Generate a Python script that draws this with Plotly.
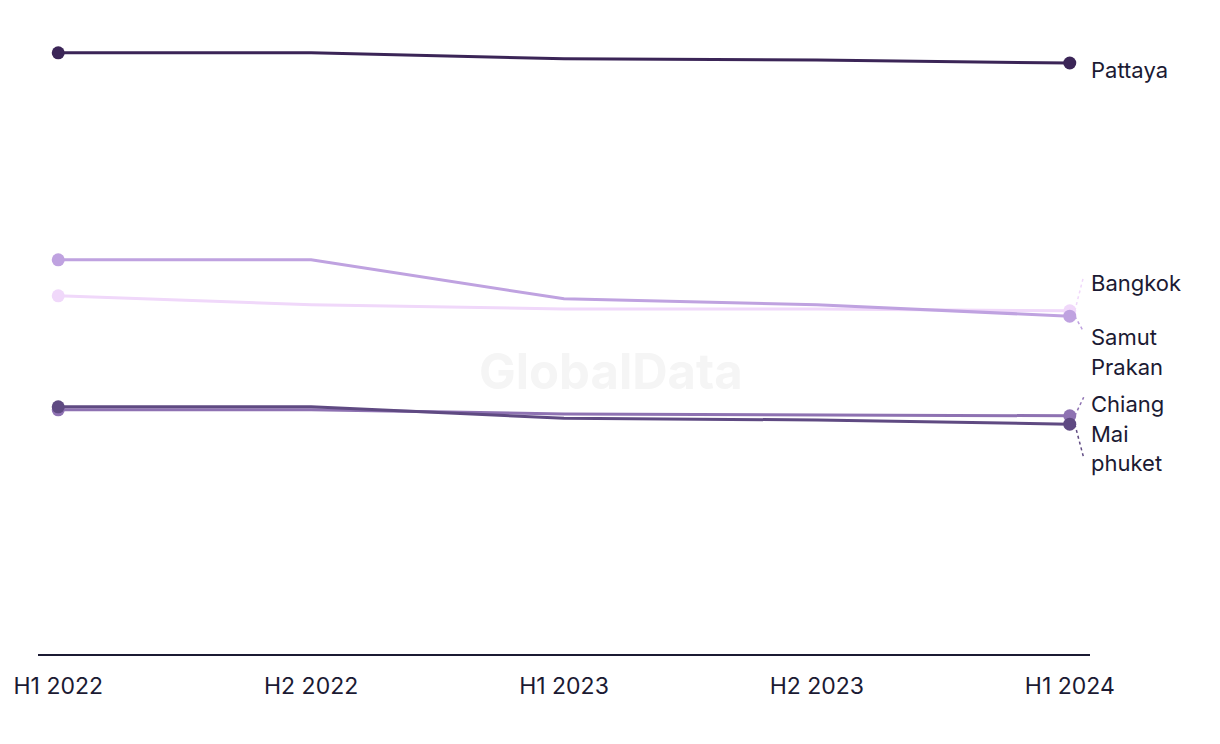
import plotly.graph_objects as go

periods = ["H1 2022", "H2 2022", "H1 2023", "H2 2023", "H1 2024"]

pattaya = [100.2, 100.2, 99.2, 99.0, 98.5]
samut_prakan = [65.7, 65.7, 59.2, 58.2, 56.3]
bangkok = [59.7, 58.2, 57.5, 57.5, 57.2]
chiang_mai = [40.7, 40.7, 40.0, 39.8, 39.7]
phuket = [41.2, 41.2, 39.3, 39.0, 38.3]

series = [
    ("Bangkok", bangkok, "#f0d8fa"),
    ("Samut Prakan", samut_prakan, "#bfa2e0"),
    ("Chiang Mai", chiang_mai, "#8e72b2"),
    ("phuket", phuket, "#5f4a82"),
    ("Pattaya", pattaya, "#3b2557"),
]

# label lines and their vertical placement (data units)
label_lines = {
    "Bangkok": [("Bangkok", 61.8)],
    "Samut Prakan": [("Samut", 52.8), ("Prakan", 47.8)],
    "Chiang Mai": [("Chiang", 41.6), ("Mai", 36.7)],
    "phuket": [("phuket", 31.8)],
    "Pattaya": [("Pattaya", 97.3)],
}
conn_end = {"Bangkok": 63.0, "Samut Prakan": 53.7, "Chiang Mai": 42.8, "phuket": 32.7}

text_color = "#1b1a33"
FONT = "Inter"

fig = go.Figure()
for name, vals, col in series:
    fig.add_trace(go.Scatter(
        x=list(range(len(periods))), y=vals, mode="lines",
        line=dict(color=col, width=3), showlegend=False, hoverinfo="skip"))
    fig.add_trace(go.Scatter(
        x=[0, len(periods) - 1], y=[vals[0], vals[-1]], mode="markers",
        marker=dict(color=col, size=13), showlegend=False, hoverinfo="skip"))
    if name in conn_end:
        fig.add_shape(type="line", x0=4.02, y0=vals[-1], x1=4.055, y1=conn_end[name],
                      xref="x", yref="y", line=dict(color=col, width=1.5, dash="dot"))
    for txt, ly in label_lines[name]:
        fig.add_annotation(x=1, xref="paper", y=ly, yref="y", text=txt,
                           showarrow=False, xanchor="left", yanchor="middle", align="left",
                           xshift=-1, font=dict(size=22, color=text_color, family=FONT))

fig.add_annotation(x=0.545, y=0.445, xref="paper", yref="paper", text="<b>GlobalData</b>",
                   showarrow=False, font=dict(size=49, color="#f5f5f5", family=FONT))

fig.update_layout(
    width=1220, height=744,
    margin=dict(l=30, r=138, t=12, b=98, autoexpand=False),
    plot_bgcolor="white", paper_bgcolor="white",
    font=dict(family=FONT, color=text_color),
    xaxis=dict(tickmode="array", tickvals=list(range(len(periods))), ticktext=periods,
               range=[-0.08, 4.08], showgrid=False, zeroline=False, automargin=False,
               showline=True, linecolor=text_color, linewidth=2,
               ticks="outside", ticklen=10, tickcolor="rgba(0,0,0,0)",
               tickfont=dict(size=23, color=text_color, family=FONT)),
    yaxis=dict(range=[0, 105.67], showgrid=False, zeroline=False, showticklabels=False,
               showline=False, automargin=False),
)

fig.write_html("out.html")
